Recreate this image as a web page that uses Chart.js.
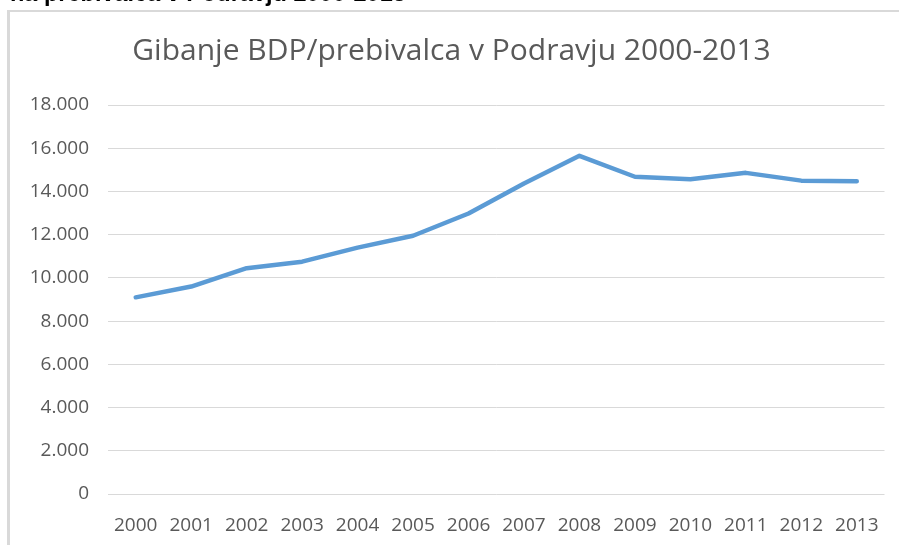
<!DOCTYPE html>
<html>
<head>
<meta charset="utf-8">
<script src="https://cdn.jsdelivr.net/npm/chart.js@4.4.1/dist/chart.umd.min.js"></script>
<style>
  html, body { margin: 0; padding: 0; background: #ffffff; }
  body { width: 899px; height: 545px; position: relative; overflow: hidden; }
  #frame { position: absolute; left: 7px; top: 10px; width: 920px; height: 560px;
           border-left: 3px solid #d9d9d9; border-top: 2px solid #d9d9d9; box-sizing: border-box; }
  #cap { position: absolute; top: -20px; left: 0; white-space: nowrap;
         font-family: "Liberation Sans", Arial, sans-serif; font-weight: bold; font-size: 23.5px; color: #000; }
  #wrap { position: absolute; left: 0; top: 0; width: 899px; height: 545px; }
</style>
</head>
<body>
<div id="wrap"><canvas id="c" width="899" height="545"></canvas></div>
<div id="frame"></div>
<div id="cap"><span id="capPre">BDP </span>na prebivalca v Podravju 2000-2013</div>
<script>
const years = ["2000","2001","2002","2003","2004","2005","2006","2007","2008","2009","2010","2011","2012","2013"];
const gdpPerCapita = [9100, 9600, 10450, 10750, 11400, 11950, 12980, 14370, 15650, 14680, 14560, 14860, 14500, 14470];
const yTicks = [0, 2000, 4000, 6000, 8000, 10000, 12000, 14000, 16000, 18000];
const chartTitle = "Gibanje BDP/prebivalca v Podravju 2000-2013";

// position the clipped caption so that "na" starts at x=10
const pre = document.getElementById('capPre');
document.getElementById('cap').style.left = (10 - pre.getBoundingClientRect().width) + 'px';

function fmt(v) {
  return String(v).replace(/\B(?=(\d{3})+(?!\d))/g, '.');
}

new Chart(document.getElementById('c'), {
  type: 'line',
  data: {
    labels: years,
    datasets: [{
      data: gdpPerCapita,
      borderColor: '#5b9bd5',
      backgroundColor: '#5b9bd5',
      borderWidth: 4.5,
      pointRadius: 0,
      tension: 0,
      borderCapStyle: 'round',
      borderJoinStyle: 'round',
      fill: false
    }]
  },
  options: {
    responsive: false,
    animation: false,
    layout: { padding: { left: 18, right: 14, top: 0, bottom: 0 } },
    plugins: {
      legend: { display: false },
      tooltip: { enabled: false },
      title: {
        display: true,
        text: chartTitle,
        color: '#595959',
        font: { family: 'Open Sans', size: 30, weight: 'normal' },
        padding: { top: 33, bottom: 36 }
      }
    },
    scales: {
      x: {
        offset: true,
        grid: { display: false, drawTicks: false },
        border: { display: false },
        ticks: { color: '#595959', font: { family: 'Open Sans', size: 19 }, padding: 20, maxRotation: 0, autoSkip: false },
        afterFit: (s) => { s.height = 51; }
      },
      y: {
        min: 0,
        max: 18000,
        afterBuildTicks: (s) => { s.ticks = yTicks.map(v => ({ value: v })); },
        grid: { color: '#d9d9d9', lineWidth: 1, drawTicks: false },
        border: { display: false },
        ticks: { color: '#595959', font: { family: 'Open Sans', size: 19 }, padding: 19, callback: (v) => fmt(v) },
        afterFit: (s) => { s.width = 90; }
      }
    }
  }
});
</script>
</body>
</html>
